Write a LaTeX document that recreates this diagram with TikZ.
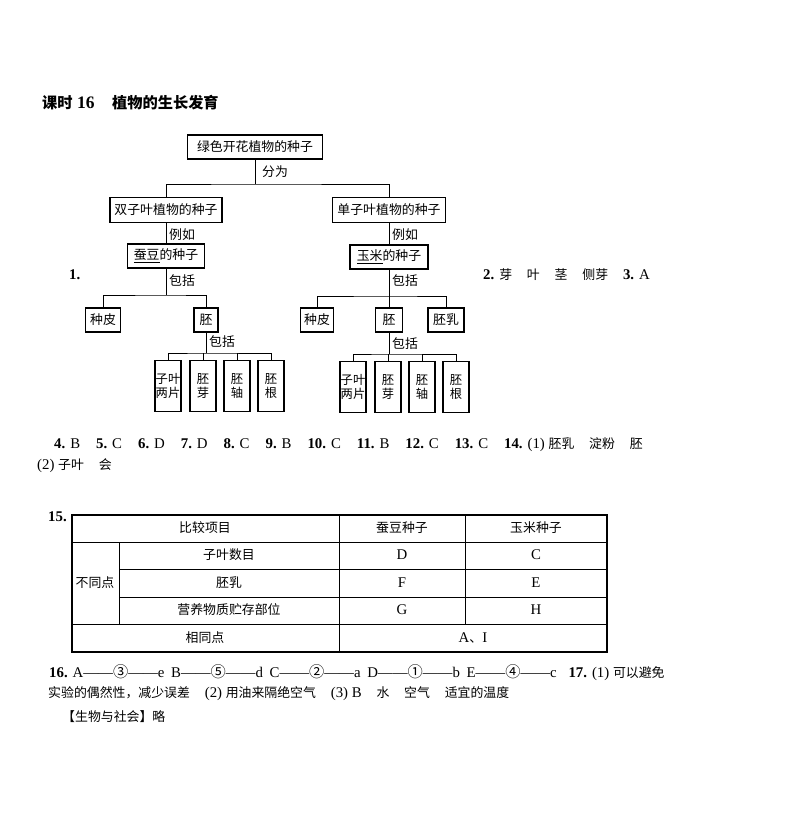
\documentclass[tikz,border=0pt]{standalone}
\usepackage{fontspec}
\setmainfont{Liberation Serif}[Scale=1.15]
\newfontfamily\cjk{Noto Sans CJK SC}
\XeTeXinterchartokenstate=1
\newXeTeXintercharclass\cjkclass
\newcount\cjkcnt
\newcommand\setcjkrange[2]{%
  \cjkcnt=#1\relax
  \loop
    \XeTeXcharclass\cjkcnt=\cjkclass
    \ifnum\cjkcnt<#2\relax \advance\cjkcnt by 1 \repeat}
\setcjkrange{"4E00}{"9FFF}
\setcjkrange{"3000}{"303F}
\setcjkrange{"FF01}{"FF5E}
\setcjkrange{"2460}{"2473}
\XeTeXinterchartoks 0 \cjkclass = {\cjk}
\XeTeXinterchartoks 4095 \cjkclass = {\cjk}
\XeTeXinterchartoks \cjkclass 0 = {\rmfamily}
\XeTeXinterchartoks \cjkclass 4095 = {\rmfamily}
\newcommand\cnum[1]{{\fontsize{13}{13}\selectfont #1}}
\usepackage{tikz}
\usetikzlibrary{positioning}

\begin{document}
\begin{tikzpicture}[x=0.03cm, y=-0.03cm, font=\fontsize{11}{13}\selectfont,
  box/.style={draw, line width=0.9pt, inner sep=0pt, minimum height=0.72cm},
  leaf/.style={draw, line width=0.9pt, inner sep=0pt, minimum width=0.78cm,
    minimum height=1.53cm, align=center, font=\fontsize{10.5}{12.5}\selectfont},
  link/.style={line width=0.5pt},
  lbl/.style={anchor=west, inner sep=0pt},
  rule/.style={line width=0.5pt}]
  \useasboundingbox (0,0) rectangle (800,817);
  \node (title) at (42,103) [lbl, font=\fontsize{13}{15}\selectfont\bfseries] {课时 16\quad 植物的生长发育};
  \node (seed) at (255,147) [box, minimum width=4.05cm] {绿色开花植物的种子};
  \node (fen) at (262,172) [lbl] {分为};
  \node (dicot) at (166,210) [box, minimum width=3.36cm, minimum height=0.75cm] {双子叶植物的种子};
  \node (mono) at (389,210) [box, minimum width=3.39cm, minimum height=0.75cm] {单子叶植物的种子};
  \node (egA) at (169,235) [lbl] {例如};
  \node (egB) at (392,235) [lbl] {例如};
  \node (bean) at (166,256) [box, minimum width=2.31cm] {\underline{蚕豆}的种子};
  \node (corn) at (389,257) [box, minimum width=2.34cm] {\underline{玉米}的种子};
  \node (incA) at (169,281) [lbl] {包括};
  \node (incB) at (392,281) [lbl] {包括};
  \node (coatA) at (103,320) [box, minimum width=1.05cm] {种皮};
  \node (embA) at (206,320) [box, minimum width=0.72cm] {胚};
  \node (coatB) at (317,320) [box, minimum width=1.0cm] {种皮};
  \node (embB) at (389,320) [box, minimum width=0.8cm] {胚};
  \node (endoB) at (446,320) [box, minimum width=1.08cm] {胚乳};
  \node (incC) at (209,342) [lbl] {包括};
  \node (incD) at (392,344) [lbl] {包括};
  \node (lfA1) at (168,386) [leaf] {子叶\\两片};
  \node (lfA2) at (203,386) [leaf] {胚\\芽};
  \node (lfA3) at (237,386) [leaf] {胚\\轴};
  \node (lfA4) at (271,386) [leaf] {胚\\根};
  \node (lfB1) at (353,387) [leaf] {子叶\\两片};
  \node (lfB2) at (388,387) [leaf] {胚\\芽};
  \node (lfB3) at (422,387) [leaf] {胚\\轴};
  \node (lfB4) at (456,387) [leaf] {胚\\根};
  \coordinate (barA) at (255,184);
  \coordinate (barB) at (166,295);
  \coordinate (barC) at (389,296);
  \coordinate (barD) at (206,353);
  \coordinate (barE) at (389,354);
  \draw [link] (seed.south) -- (barA);
  \draw [link] (dicot.north) |- (barA) -| (mono.north);
  \draw [link] (dicot) -- (bean);
  \draw [link] (mono) -- (corn);
  \draw [link] (bean.south) -- (barB);
  \draw [link] (coatA.north) |- (barB) -| (embA.north);
  \draw [link] (corn.south) -- (barC);
  \draw [link] (coatB.north) |- (barC) -| (endoB.north);
  \draw [link] (embB.north) -- (barC);
  \draw [link] (embA.south) -- (barD);
  \draw [link] (lfA1.north) |- (barD) -| (lfA4.north);
  \draw [link] (lfA2.north) -- (lfA2.north |- barD);
  \draw [link] (lfA3.north) -- (lfA3.north |- barD);
  \draw [link] (embB.south) -- (barE);
  \draw [link] (lfB1.north) |- (barE) -| (lfB4.north);
  \draw [link] (lfB2.north) -- (lfB2.north |- barE);
  \draw [link] (lfB3.north) -- (lfB3.north |- barE);
  \node (one) at (69,275) [lbl] {\textbf{1.}};
  \node (two) at (483,275) [lbl] {\textbf{2.} 芽\quad 叶\quad 茎\quad 侧芽\quad \textbf{3.} A};
  \node (four) at (54,445) [lbl] {\textbf{4.} B\hspace{1.08em}\textbf{5.} C\hspace{1.08em}\textbf{6.} D\hspace{1.08em}\textbf{7.} D\hspace{1.08em}\textbf{8.} C\hspace{1.08em}\textbf{9.} B\hspace{1.08em}\textbf{10.} C\hspace{1.08em}\textbf{11.} B\hspace{1.08em}\textbf{12.} C\hspace{1.08em}\textbf{13.} C\hspace{1.08em}\textbf{14.} (1) 胚乳\quad 淀粉\quad 胚};
  \node (fourb) at (37,466) [lbl] {(2) 子叶\quad 会};
  \node (fifteen) at (48,517) [lbl] {\textbf{15.}};
  \draw [line width=1pt] (72,515) rectangle (607,652);
  \draw [rule] (72,542) -- (607,542) (72,624) -- (607,624)
    (119,569) -- (607,569) (119,597) -- (607,597)
    (119,542) -- (119,624) (339,515) -- (339,652) (465,515) -- (465,624);
  \node (item) at (205,528) {比较项目};
  \node (beanh) at (402,528) {蚕豆种子};
  \node (cornh) at (536,528) {玉米种子};
  \node (diff) at (95,583) {不同点};
  \node (cot) at (229,555) {子叶数目};
  \node (cotA) at (402,555) {D};
  \node (cotB) at (536,555) {C};
  \node (endo) at (229,583) {胚乳};
  \node (endoA) at (402,583) {F};
  \node (endoC) at (536,583) {E};
  \node (store) at (229,610) {营养物质贮存部位};
  \node (storeA) at (402,610) {G};
  \node (storeB) at (536,610) {H};
  \node (same) at (205,638) {相同点};
  \node (sameA) at (473,638) {A、I};
  \node (sixteen) at (49,673) [lbl] {\textbf{16.} A——\cnum{③}——e\hspace{0.45em}B——\cnum{⑤}——d\hspace{0.45em}C——\cnum{②}——a\hspace{0.45em}D——\cnum{①}——b\hspace{0.45em}E——\cnum{④}——c\hspace{0.8em}\textbf{17.} (1) 可以避免};
  \node (sixteenb) at (48,694) [lbl] {实验的偶然性，减少误差\quad (2) 用油来隔绝空气\quad (3) B\quad 水\quad 空气\quad 适宜的温度};
  \node (social) at (62,717) [lbl] {【生物与社会】略};
\end{tikzpicture}
\end{document}
